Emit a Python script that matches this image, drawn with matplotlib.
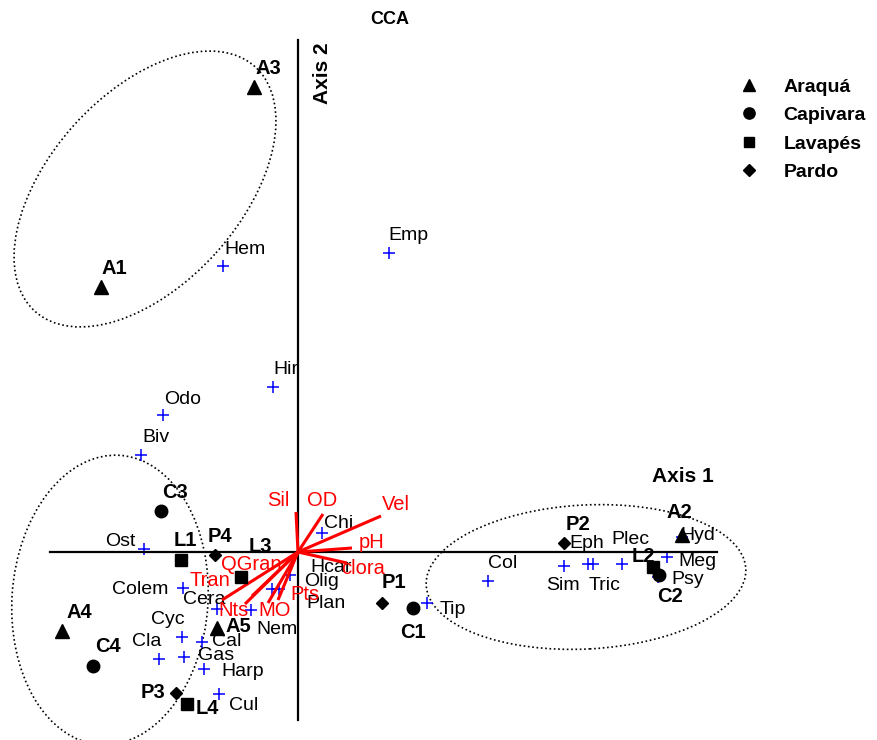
import matplotlib
matplotlib.use('Agg')
import matplotlib.pyplot as plt
from matplotlib.patches import Ellipse
from matplotlib.lines import Line2D

plt.rcParams['font.family'] = ['Liberation Sans', 'DejaVu Sans']

# --- CCA scores: sites ---
site_names = ['A1', 'A2', 'A3', 'A4', 'A5', 'C1', 'C2', 'C3', 'C4',
              'L1', 'L2', 'L3', 'L4', 'P1', 'P2', 'P3', 'P4']
site_x = [-1.97, 3.84, -0.44, -2.36, -0.81, 1.15, 3.61, -1.37, -2.05,
          -1.17, 3.55, -0.57, -1.11, 0.84, 2.66, -1.22, -0.83]
site_y = [2.65, 0.17, 4.65, -0.79, -0.76, -0.56, -0.23, 0.41, -1.14,
          -0.08, -0.15, -0.25, -1.52, -0.51, 0.09, -1.41, -0.03]

# --- CCA scores: taxa ---
taxa = ['Emp', 'Hem', 'Hir', 'Odo', 'Biv', 'Ost', 'Chi', 'Colem', 'Cera', 'Nem',
        'Cyc', 'Cal', 'Cla', 'Gas', 'Harp', 'Cul', 'Olig', 'Plan', 'Hcar',
        'Col', 'Tip', 'Sim', 'Tric', 'Eph', 'Plec', 'Meg', 'Psy', 'Hyd']
taxa_x = [0.91, -0.75, -0.25, -1.35, -1.57, -1.54, 0.24, -1.15, -0.81, -0.47,
          -1.16, -0.96, -1.39, -1.14, -0.94, -0.79, -0.26, -0.19, -0.08,
          1.90, 1.29, 2.66, 2.90, 2.95, 3.24, 3.69, 3.60, 3.84]
taxa_y = [2.99, 2.86, 1.65, 1.37, 0.97, 0.03, 0.19, -0.36, -0.57, -0.58,
          -0.85, -0.90, -1.07, -1.05, -1.17, -1.42, -0.37, -0.37, -0.23,
          -0.29, -0.51, -0.14, -0.12, -0.12, -0.12, -0.05, -0.25, 0.15]

# --- environmental vectors (biplot scores) ---
env_names = ['Sil', 'OD', 'Vel', 'pH', 'clora', 'QGran', 'Tran', 'Nts', 'MO', 'Pts']
env_x = [-0.02, 0.25, 0.83, 0.54, 0.49, -0.46, -0.76, -0.53, -0.30, -0.20]
env_y = [0.40, 0.38, 0.36, 0.04, -0.11, -0.44, -0.48, -0.52, -0.51, -0.48]

# label offsets in pixels (right, down)
site_off = {'A1': (13, -20), 'A2': (-3, -25), 'A3': (14, -21), 'A4': (17, -21),
            'A5': (21, -3), 'C1': (0, 22), 'C2': (11, 19), 'C3': (14, -21),
            'C4': (15, -21), 'L1': (4, -22), 'L2': (-10, -13), 'L3': (19, -32),
            'L4': (20, 2), 'P1': (12, -22), 'P2': (14, -21), 'P3': (-23, -3),
            'P4': (5, -20)}
taxa_off = {'Emp': (19, -20), 'Hem': (22, -19), 'Hir': (13, -20), 'Odo': (20, -18),
            'Biv': (15, -19), 'Ost': (-24, -9), 'Chi': (17, -12), 'Colem': (-43, -1),
            'Cera': (-13, -11), 'Nem': (26, 17), 'Cyc': (-14, -19), 'Cal': (25, -2),
            'Cla': (-12, -19), 'Gas': (32, -4), 'Harp': (39, 1), 'Cul': (25, 9),
            'Olig': (50, -9), 'Plan': (47, 13), 'Hcar': (41, -10), 'Col': (15, -19),
            'Tip': (26, 5), 'Sim': (-1, 17), 'Tric': (17, 19), 'Eph': (-6, -22),
            'Plec': (8, -26), 'Meg': (30, 3), 'Psy': (30, 0), 'Hyd': (16, -4)}
env_off = {'Sil': (-18, -14), 'OD': (-1, -16), 'Vel': (15, -13), 'pH': (20, -8),
           'clora': (16, 3), 'QGran': (-1, -34), 'Tran': (-12, -21), 'Nts': (-11, 4),
           'MO': (7, 5), 'Pts': (27, -7)}

markers = {'A': '^', 'C': 'o', 'L': 's', 'P': 'D'}
msize = {'A': 9.5, 'C': 9, 'L': 8.5, 'P': 6.5}

fig = plt.figure(figsize=(8.77, 7.40), dpi=100)
ax = fig.add_axes([0, 0, 1, 1])
ax.set_xlim(-2.98, 5.79)
ax.set_ylim(-1.88, 5.52)
ax.axis('off')

# groups (dotted ellipses)
for c, w, h, a in [((-1.53, 3.63), 3.29, 1.91, 48),
                   ((-1.88, -0.48), 1.96, 2.90, -4),
                   ((2.88, -0.25), 3.20, 1.44, 3)]:
    ax.add_patch(Ellipse(c, w, h, angle=a, fill=False, color='black',
                         lw=1.2, linestyle=(0, (1, 1.6))))

# axes through origin
ax.axhline(0, xmin=50 / 877, xmax=717 / 877, color='black', lw=1.6, zorder=4)
ax.axvline(0, ymin=20 / 740, ymax=700 / 740, color='black', lw=1.6, zorder=4)

# taxa
ax.plot(taxa_x, taxa_y, '+', color='blue', ms=9, mew=1.1, zorder=3)
for n, x, y in zip(taxa, taxa_x, taxa_y):
    dx, dy = taxa_off[n]
    ax.annotate(n, (x, y), xytext=(dx, -dy), textcoords='offset pixels',
                ha='center', va='center_baseline', fontsize=14, color='black', zorder=3)

# environmental vectors
for n, x, y in zip(env_names, env_x, env_y):
    ax.plot([0, x], [0, y], color='red', lw=2.2, zorder=5, solid_capstyle='butt')
    dx, dy = env_off[n]
    ax.annotate(n, (x, y), xytext=(dx, -dy), textcoords='offset pixels',
                ha='center', va='center_baseline', fontsize=14.5, color='red', zorder=5)

# sites
for n, x, y in zip(site_names, site_x, site_y):
    g = n[0]
    ax.plot(x, y, marker=markers[g], color='black', ms=msize[g], linestyle='None', zorder=6)
    dx, dy = site_off[n]
    ax.annotate(n, (x, y), xytext=(dx, -dy), textcoords='offset pixels',
                ha='center', va='center_baseline', fontsize=14.5, fontweight='bold', zorder=6)

ax.text(0.25, 4.79, 'Axis 2', rotation=90, ha='center', va='center',
        fontsize=15, fontweight='bold')
ax.text(3.85, 0.78, 'Axis 1', ha='center', va='center_baseline',
        fontsize=15, fontweight='bold')
fig.text(390 / 877, 1 - 19 / 740, 'CCA', ha='center', va='center',
         fontsize=13, fontweight='bold')

rivers = ['Araquá', 'Capivara', 'Lavapés', 'Pardo']
handles = [Line2D([], [], marker=markers[r[0]], color='black', linestyle='None',
                  markersize=msize[r[0]] * 0.9) for r in rivers]
leg = ax.legend(handles, rivers, loc='upper left', bbox_to_anchor=(739 / 877, 1 - 78 / 740),
                bbox_transform=fig.transFigure, frameon=False, fontsize=14,
                handlelength=1.0, handletextpad=1.3, labelspacing=0.56, borderpad=0,
                borderaxespad=0)
for t in leg.get_texts():
    t.set_fontweight('bold')

fig.savefig('out.png', dpi=100)
